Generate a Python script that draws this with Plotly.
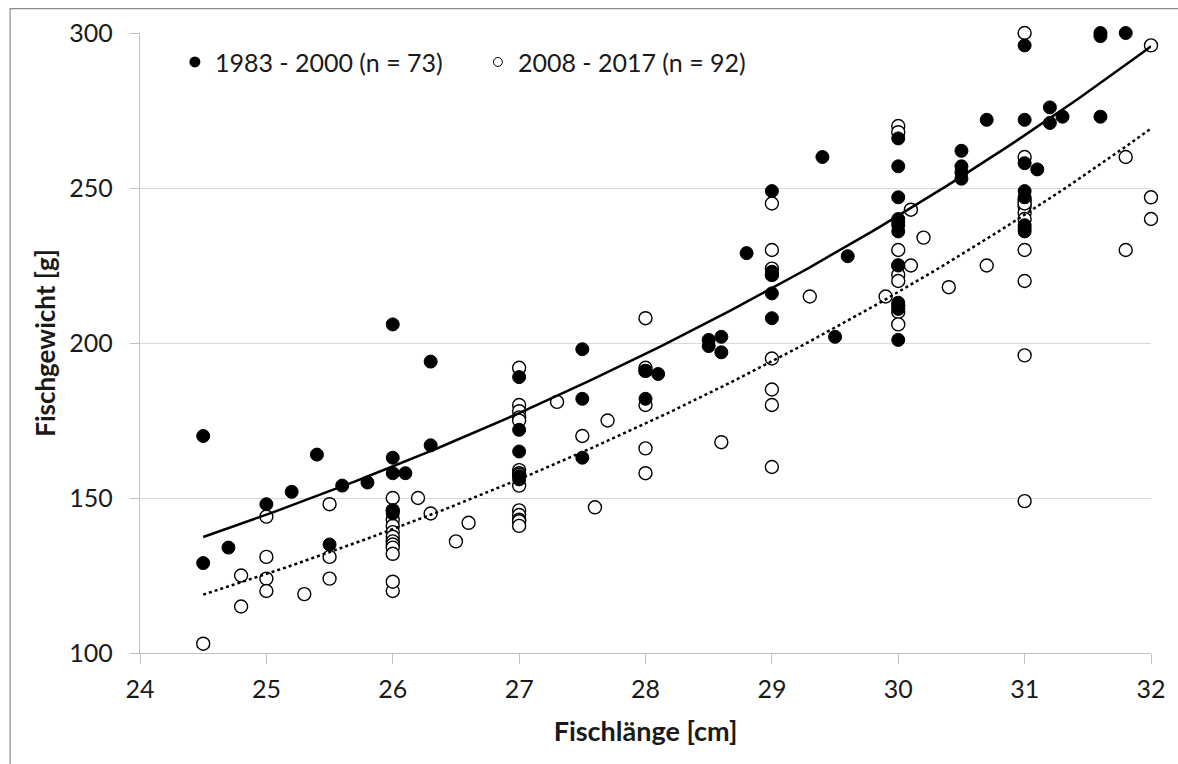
import numpy as np
import plotly.graph_objects as go

# 1983 - 2000 (filled)
len_old = [24.5, 24.5, 24.7, 25.0, 25.2, 25.4, 25.5, 25.6, 25.8, 26.0, 26.0, 26.0, 26.0, 26.0, 26.1,
           26.3, 26.3, 27.0, 27.0, 27.0, 27.0, 27.0, 27.5, 27.5, 27.5, 28.0, 28.0, 28.1, 28.5, 28.5,
           28.6, 28.6, 28.8, 29.0, 29.0, 29.0, 29.0, 29.0, 29.4, 29.5, 29.6, 30.0, 30.0, 30.0, 30.0,
           30.0, 30.0, 30.0, 30.0, 30.0, 30.0, 30.0, 30.5, 30.5, 30.5, 30.5, 30.7, 31.0, 31.0, 31.0,
           31.0, 31.0, 31.0, 31.0, 31.0, 31.1, 31.2, 31.2, 31.3, 31.6, 31.6, 31.6, 31.8]
wt_old = [170, 129, 134, 148, 152, 164, 135, 154, 155, 206, 163, 158, 145, 146, 158,
          194, 167, 189, 172, 165, 157, 156, 198, 182, 163, 191, 182, 190, 201, 199,
          202, 197, 229, 249, 223, 222, 216, 208, 260, 202, 228, 266, 257, 247, 240,
          239, 238, 236, 225, 213, 211, 201, 262, 257, 255, 253, 272, 296, 272, 258,
          249, 247, 238, 237, 236, 256, 276, 271, 273, 300, 299, 273, 300]

# 2008 - 2017 (open)
len_new = [24.5, 24.8, 24.8, 25.0, 25.0, 25.0, 25.0, 25.3, 25.5, 25.5, 25.5, 26.0, 26.0, 26.0,
           26.0, 26.0, 26.0, 26.0, 26.0, 26.0, 26.0, 26.0, 26.0, 26.2, 26.3, 26.5, 26.6, 27.0,
           27.0, 27.0, 27.0, 27.0, 27.0, 27.0, 27.0, 27.0, 27.0, 27.0, 27.0, 27.0, 27.0, 27.3,
           27.5, 27.6, 27.7, 28.0, 28.0, 28.0, 28.0, 28.0, 28.0, 28.6, 29.0, 29.0, 29.0, 29.0,
           29.0, 29.0, 29.0, 29.0, 29.3, 29.9, 30.0, 30.0, 30.0, 30.0, 30.0, 30.0, 30.0, 30.0,
           30.0, 30.1, 30.1, 30.2, 30.4, 30.7, 31.0, 31.0, 31.0, 31.0, 31.0, 31.0, 31.0, 31.0,
           31.0, 31.0, 31.8, 31.8, 32.0, 32.0, 32.0, 31.0]
wt_new = [103, 125, 115, 144, 131, 124, 120, 119, 148, 131, 124, 150, 120, 146,
          143, 141, 139, 137.5, 136, 135, 134, 132, 123, 150, 145, 136, 142, 192,
          180, 178, 176, 175, 159, 158, 157.5, 154, 146, 144.5, 143, 142.5, 141, 181,
          170, 147, 175, 208, 192, 191, 180, 166, 158, 168, 245, 230, 224, 222,
          195, 185, 180, 160, 215, 215, 270, 268, 230, 225, 222, 220, 212, 210,
          206, 243, 225, 234, 218, 225, 300, 260, 244, 242, 240, 230, 220, 196,
          149, 246, 260, 230, 296, 247, 240, 245]

# exponential trendlines y = a * exp(b * x), coefficients
trend_range = [24.5, 32.0]
trend_old_a, trend_old_b = 11.238, 0.10219
trend_new_a, trend_new_b = 8.218, 0.10903

x_ticks = [24, 25, 26, 27, 28, 29, 30, 31, 32]
y_ticks = [100, 150, 200, 250, 300]
label_old = "1983 - 2000 (n = 73)"
label_new = "2008 - 2017 (n = 92)"

xs = np.linspace(trend_range[0], trend_range[1], 120)

FONT = "Lato, 'Open Sans', sans-serif"
TXT = "#1a1a1a"
fig = go.Figure()

fig.add_trace(go.Scatter(x=len_new, y=wt_new, mode="markers", showlegend=False, cliponaxis=False,
                         marker=dict(size=13, color="white", line=dict(color="black", width=1.4))))
fig.add_trace(go.Scatter(x=len_old, y=wt_old, mode="markers", showlegend=False, cliponaxis=False,
                         marker=dict(size=13, color="black", line=dict(color="black", width=1))))
fig.add_trace(go.Scatter(x=xs, y=trend_old_a * np.exp(trend_old_b * xs), mode="lines", showlegend=False,
                         line=dict(color="black", width=2.5), hoverinfo="skip"))
fig.add_trace(go.Scatter(x=xs, y=trend_new_a * np.exp(trend_new_b * xs), mode="lines", showlegend=False,
                         line=dict(color="black", width=2.5, dash="dot"), hoverinfo="skip"))

# legend entries
fig.add_trace(go.Scatter(x=[None], y=[None], mode="markers", name=label_old,
                         marker=dict(size=11, color="black")))
fig.add_trace(go.Scatter(x=[None], y=[None], mode="markers", name=label_new,
                         marker=dict(size=9, color="white", line=dict(color="black", width=1))))

# outer frame
fig.add_shape(type="rect", xref="paper", yref="paper",
              x0=-0.1285, x1=1.03, y0=-0.19, y1=1.0392,
              line=dict(color="#8a8a8a", width=1.2), fillcolor="rgba(0,0,0,0)", layer="below")

fig.update_layout(
    width=1178, height=764,
    margin=dict(l=140, r=23, t=33, b=111),
    plot_bgcolor="white", paper_bgcolor="white",
    font=dict(family=FONT, size=25, color=TXT),
    showlegend=True,
    legend=dict(orientation="h", x=0.0345, y=0.99, xanchor="left", yanchor="top",
                bgcolor="rgba(0,0,0,0)", font=dict(size=25, color=TXT),
                itemwidth=30, entrywidth=258, entrywidthmode="pixels"),
    xaxis=dict(range=[24, 32], tickvals=x_ticks, ticktext=[str(v) for v in x_ticks],
               showgrid=False, zeroline=False, showline=True, linecolor="#bfbfbf", linewidth=1.3,
               ticks="outside", ticklen=10, tickcolor="#bfbfbf", tickwidth=1.3,
               ticklabelstandoff=4, tickfont=dict(size=25),
               title=dict(text="<b>Fischlänge [cm]</b>", font=dict(size=27), standoff=19)),
    yaxis=dict(range=[100, 300], tickvals=y_ticks, ticktext=[str(v) for v in y_ticks],
               showgrid=True, gridcolor="#d9d9d9", gridwidth=1.3, zeroline=False,
               showline=True, linecolor="#bfbfbf", linewidth=1.3,
               ticks="outside", ticklen=9, tickcolor="#bfbfbf", tickwidth=1.3,
               ticklabelstandoff=12, tickfont=dict(size=25),
               title=dict(text="<b>Fischgewicht [g]</b>", font=dict(size=26), standoff=6)),
)

fig.write_html("out.html")
